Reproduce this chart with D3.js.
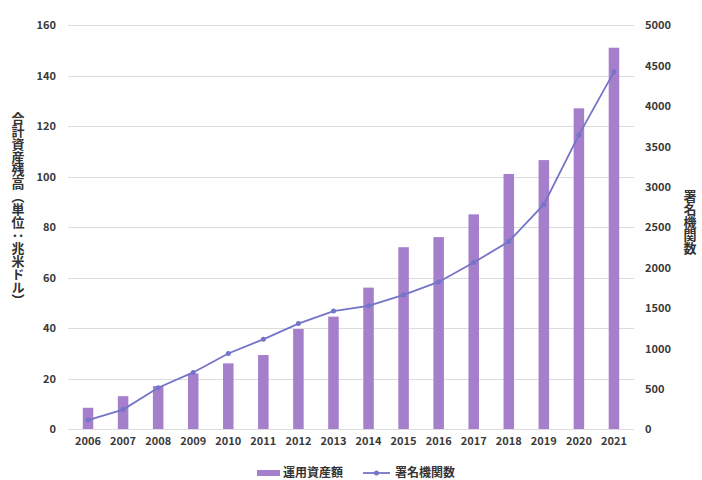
<!DOCTYPE html>
<html>
<head>
<meta charset="utf-8">
<script src="https://cdn.jsdelivr.net/npm/d3@7"></script>
<style>
  body { margin: 0; background: #fff; }
  text { font-family: "Noto Sans CJK JP", "Liberation Sans", sans-serif; }
</style>
</head>
<body>
<div id="graph"></div>
<script>
// 運用資産額 (兆米ドル) と 署名機関数
const years = ['2006', '2007', '2008', '2009', '2010', '2011', '2012', '2013',
  '2014', '2015', '2016', '2017', '2018', '2019', '2020', '2021'];
const assets = [8.4, 13, 17, 22, 26, 29.3, 39.6, 44.5, 56, 72, 76, 85, 101, 106.5, 127, 151];
const signatories = [110, 240, 510, 700, 935, 1110, 1305, 1460, 1525, 1660, 1820, 2060, 2320, 2780, 3640, 4420];
const leftTicks = [0, 20, 40, 60, 80, 100, 120, 140, 160];
const rightTicks = [0, 500, 1000, 1500, 2000, 2500, 3000, 3500, 4000, 4500, 5000];

const barColor = '#a57fcb';
const lineColor = '#7474c8';

drawChart();

function drawChart() {
  const width = 702;
  const height = 480;

  const svg = d3.select('#graph')
      .append('svg')
      .attr('width', width)
      .attr('height', height);

  const x = d3.scaleBand()
      .domain(years)
      .range([70.5, 631.5])
      .paddingInner(0.7)
      .paddingOuter(0.35);

  const yLeft = d3.scaleLinear().domain([0, 160]).range([429, 25]);
  const yRight = d3.scaleLinear().domain([0, 5000]).range([429, 25]);

  // gridlines
  svg.append('g')
      .selectAll('line')
      .data(leftTicks)
      .enter()
      .append('line')
      .attr('x1', 68)
      .attr('x2', 634)
      .attr('y1', d => Math.round(yLeft(d)) + 0.5)
      .attr('y2', d => Math.round(yLeft(d)) + 0.5)
      .attr('stroke', '#dcdcdc')
      .attr('stroke-width', 1.2);

  // left axis
  const axisLeft = svg.append('g')
      .attr('transform', 'translate(56,0)')
      .call(d3.axisLeft(yLeft).tickValues(leftTicks).tickSize(0).tickPadding(0));
  axisLeft.select('.domain').remove();

  // right axis
  const axisRight = svg.append('g')
      .attr('transform', 'translate(645,0)')
      .call(d3.axisRight(yRight).tickValues(rightTicks).tickFormat(d3.format('d'))
        .tickSize(0).tickPadding(0));
  axisRight.select('.domain').remove();

  // bottom axis
  const axisBottom = svg.append('g')
      .attr('transform', 'translate(0,437)')
      .call(d3.axisBottom(x).tickSize(0).tickPadding(0));
  axisBottom.select('.domain').remove();

  svg.selectAll('.tick text')
      .attr('font-family', '"Liberation Sans", Arial, sans-serif')
      .attr('font-size', 11)
      .attr('font-weight', 'bold')
      .attr('fill', '#3a3a3a');
  axisLeft.selectAll('.tick text').attr('dy', '0.35em');
  axisRight.selectAll('.tick text').attr('dy', '0.35em');

  // bars
  svg.append('g')
      .selectAll('rect')
      .data(assets)
      .enter()
      .append('rect')
      .attr('x', (d, i) => x(years[i]))
      .attr('y', d => yLeft(d))
      .attr('width', x.bandwidth())
      .attr('height', d => yLeft(0) - yLeft(d))
      .attr('fill', barColor);

  // line
  const line = d3.line()
      .x((d, i) => x(years[i]) + x.bandwidth() / 2)
      .y(d => yRight(d));

  svg.append('path')
      .datum(signatories)
      .attr('d', line)
      .attr('fill', 'none')
      .attr('stroke', lineColor)
      .attr('stroke-width', 1.8);

  svg.append('g')
      .selectAll('circle')
      .data(signatories)
      .enter()
      .append('circle')
      .attr('cx', (d, i) => x(years[i]) + x.bandwidth() / 2)
      .attr('cy', d => yRight(d))
      .attr('r', 2.5)
      .attr('fill', lineColor);

  // axis titles (vertical)
  svg.append('text')
      .attr('x', 18)
      .attr('y', 112)
      .style('writing-mode', 'vertical-rl')
      .attr('font-size', 13)
      .attr('font-weight', 'bold')
      .attr('fill', '#333')
      .text('合計資産残高（単位：兆米ドル）');

  svg.append('text')
      .attr('x', 690)
      .attr('y', 190)
      .style('writing-mode', 'vertical-rl')
      .attr('font-size', 13)
      .attr('font-weight', 'bold')
      .attr('fill', '#333')
      .text('署名機関数');

  // legend
  const legend = svg.append('g').attr('transform', 'translate(0,473)');
  legend.append('rect')
      .attr('x', 257)
      .attr('y', -3)
      .attr('width', 23)
      .attr('height', 6)
      .attr('fill', barColor);
  legend.append('text')
      .attr('x', 283)
      .attr('y', 0)
      .attr('dy', '0.35em')
      .attr('font-size', 12)
      .attr('font-weight', 'bold')
      .attr('fill', '#333')
      .text('運用資産額');
  legend.append('line')
      .attr('x1', 363)
      .attr('x2', 390)
      .attr('y1', 0)
      .attr('y2', 0)
      .attr('stroke', lineColor)
      .attr('stroke-width', 1.8);
  legend.append('circle')
      .attr('cx', 376.5)
      .attr('cy', 0)
      .attr('r', 2.5)
      .attr('fill', lineColor);
  legend.append('text')
      .attr('x', 395)
      .attr('y', 0)
      .attr('dy', '0.35em')
      .attr('font-size', 12)
      .attr('font-weight', 'bold')
      .attr('fill', '#333')
      .text('署名機関数');
}
</script>
</body>
</html>
